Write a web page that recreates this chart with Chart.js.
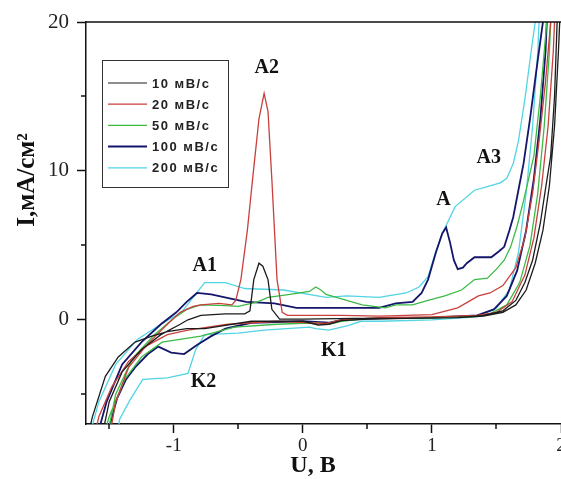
<!DOCTYPE html>
<html>
<head>
<meta charset="utf-8">
<title>ЦВА</title>
<script src="https://cdn.jsdelivr.net/npm/chart.js"></script>
<style>
  html, body { margin: 0; padding: 0; background: #fff; overflow: hidden; }
  #wrap { width: 580px; height: 479px; }
</style>
</head>
<body>
<div id="wrap"><canvas id="cv"></canvas></div>
<script>
  // подписи серий
  const seriesLabels = ['10 мВ/с', '20 мВ/с', '50 мВ/с', '100 мВ/с', '200 мВ/с'];

  // 10 мВ/с: прямой ход, затем обратный
  const x10 = [-1.56, -1.50, -1.40, -1.25, -1.10, -0.95, -0.89, -0.79, -0.60, -0.45, -0.41, -0.38, -0.34, -0.31, -0.27, -0.24, -0.18, 0.00, 0.40, 0.80, 1.20, 1.40, 1.55, 1.65, 1.72, 1.78, 1.84, 1.88, 1.92, 1.95, 1.97, 1.98,
               2.00, 1.98, 1.95, 1.91, 1.86, 1.80, 1.73, 1.65, 1.55, 1.40, 1.20, 0.80, 0.50, 0.30, 0.20, 0.12, 0.00, -0.40, -0.76, -0.90, -1.05, -1.17, -1.30, -1.43, -1.53, -1.63, -1.67];
  const y10 = [-8, -5.5, -3.5, -2.0, -1.0, -0.3, 0, 0.3, 0.4, 0.4, 0.6, 2.7, 3.8, 3.6, 2.7, 0.7, 0.05, 0.05, 0.1, 0.1, 0.15, 0.3, 0.6, 1.3, 2.5, 4.0, 6.5, 8.8, 11.0, 15.0, 20, 22,
               22, 18, 13, 9.0, 6.0, 3.8, 2.0, 1.0, 0.5, 0.25, 0.15, 0.1, 0.05, -0.05, -0.3, -0.35, -0.1, -0.1, -0.6, -0.6, -0.8, -1.1, -1.5, -2.5, -3.8, -6.5, -8];

  // 20 мВ/с
  const x20 = [-1.50, -1.45, -1.35, -1.20, -1.05, -0.95, -0.85, -0.79, -0.65, -0.55, -0.52, -0.48, -0.43, -0.39, -0.34, -0.30, -0.27, -0.24, -0.20, -0.16, -0.12, 0.30, 0.60, 1.00, 1.20, 1.30, 1.36, 1.45, 1.55, 1.65, 1.72, 1.78, 1.83, 1.88, 1.92, 1.94,
               1.96, 1.94, 1.90, 1.85, 1.79, 1.72, 1.62, 1.50, 1.35, 1.00, 0.60, 0.30, 0.18, 0.05, -0.20, -0.58, -0.89, -1.05, -1.20, -1.35, -1.48, -1.58, -1.62];
  const y20 = [-8, -5.5, -3.2, -1.6, -0.3, 0.5, 0.9, 1.0, 1.1, 1.0, 1.3, 2.7, 6.0, 9.4, 13.5, 15.2, 14.0, 9.4, 2.7, 0.5, 0.3, 0.3, 0.25, 0.35, 0.8, 1.3, 1.6, 1.8, 2.3, 3.5, 5.5, 8.5, 12.0, 16.0, 20, 22,
               22, 18, 13, 9, 5.5, 3.0, 1.2, 0.5, 0.3, 0.2, 0.15, 0, -0.25, -0.2, -0.1, -0.3, -0.7, -1.0, -1.7, -2.8, -4.5, -6.5, -8];

  // 50 мВ/с
  const x50 = [-1.52, -1.45, -1.32, -1.15, -1.00, -0.90, -0.79, -0.60, -0.50, -0.35, -0.27, -0.10, 0.05, 0.10, 0.14, 0.18, 0.26, 0.46, 0.64, 0.72, 0.85, 0.97, 1.10, 1.23, 1.33, 1.43, 1.50, 1.56, 1.61, 1.66, 1.71, 1.75, 1.79, 1.84, 1.89, 1.91,
               1.93, 1.91, 1.87, 1.82, 1.76, 1.68, 1.58, 1.45, 1.30, 0.90, 0.50, 0.30, 0.20, 0.10, -0.20, -0.53, -0.79, -1.09, -1.25, -1.38, -1.50, -1.55];
  const y50 = [-8, -5, -2.6, -1.0, 0.1, 0.7, 1.0, 0.95, 0.9, 1.2, 1.5, 1.7, 1.9, 2.2, 2.0, 1.7, 1.5, 1.0, 0.8, 1.0, 1.0, 1.3, 1.6, 2.0, 2.7, 2.8, 3.4, 4.0, 4.9, 6.3, 8.0, 9.5, 11.0, 15.0, 20, 22,
               22, 18, 13, 8.5, 5.0, 2.5, 1.0, 0.4, 0.2, 0.1, 0.1, -0.1, -0.3, -0.2, -0.3, -0.5, -1.1, -1.5, -2.5, -4.0, -6.5, -8];

  // 100 мВ/с
  const x100 = [-1.60, -1.52, -1.40, -1.25, -1.10, -0.98, -0.90, -0.82, -0.71, -0.55, -0.44, -0.22, -0.05, 0.30, 0.59, 0.72, 0.85, 0.92, 0.97, 1.03, 1.08, 1.11, 1.14, 1.17, 1.20, 1.24, 1.27, 1.33, 1.46, 1.52, 1.56, 1.60, 1.63, 1.67, 1.71, 1.76, 1.81, 1.86, 1.88,
                1.90, 1.88, 1.84, 1.79, 1.73, 1.66, 1.58, 1.48, 1.35, 1.00, 0.60, 0.30, 0.20, 0.00, -0.40, -0.60, -0.71, -0.82, -0.92, -1.02, -1.12, -1.20, -1.30, -1.37, -1.44, -1.49, -1.51];
  const y100 = [-8, -5.5, -3.0, -1.5, -0.3, 0.5, 1.2, 1.8, 1.7, 1.4, 1.2, 1.1, 0.8, 0.8, 0.8, 1.1, 1.2, 1.8, 2.7, 4.5, 5.8, 6.2, 5.2, 4.0, 3.4, 3.5, 3.8, 4.2, 4.2, 4.6, 4.9, 6.0, 6.9, 8.7, 10.5, 13.5, 16.8, 20, 22,
                22, 18, 13.5, 9.5, 6.0, 3.3, 1.6, 0.7, 0.3, 0.15, 0.1, 0.0, -0.2, -0.1, -0.2, -0.6, -1.1, -1.7, -2.3, -2.2, -1.8, -2.3, -3.2, -4.0, -5.3, -6.9, -8];

  // 200 мВ/с
  const x200 = [-1.66, -1.58, -1.45, -1.28, -1.10, -0.94, -0.85, -0.76, -0.60, -0.45, -0.15, 0.18, 0.34, 0.59, 0.80, 0.90, 0.97, 1.02, 1.08, 1.18, 1.33, 1.45, 1.53, 1.58, 1.63, 1.67, 1.72, 1.77, 1.80, 1.82,
                1.84, 1.82, 1.78, 1.73, 1.67, 1.60, 1.50, 1.35, 1.00, 0.60, 0.45, 0.35, 0.20, 0.10, 0.05, -0.30, -0.50, -0.76, -0.83, -0.89, -1.05, -1.24, -1.34, -1.42, -1.44];
  const y200 = [-8, -5.5, -3.0, -1.3, -0.3, 0.5, 1.5, 2.5, 2.5, 2.1, 2.0, 1.5, 1.6, 1.5, 1.8, 2.2, 2.9, 4.3, 5.8, 7.6, 8.7, 9.0, 9.2, 9.5, 10.5, 12.0, 14.8, 18.1, 20, 22,
                22, 18, 13, 8.5, 4.5, 2.0, 0.8, 0.2, 0.0, -0.1, -0.1, -0.4, -0.7, -0.6, -0.5, -0.7, -0.9, -1.0, -2.0, -3.6, -3.9, -4.0, -5.4, -6.7, -8];

  // деления осей
  const xTicksMinor = [-1.5, -0.5, 0.5, 1.5];
  const yTicksMinor = [-5, 5, 15];

  // подписи пиков
  const peakLabels = ['A2', 'A3', 'A', 'A1', 'K1', 'K2'];
  const peakX = [-0.28, 1.44, 1.09, -0.76, 0.24, -0.77];
  const peakY = [16.9, 10.9, 8.05, 3.6, -2.1, -4.2];

  const xs = [x10, x20, x50, x100, x200];
  const ys = [y10, y20, y50, y100, y200];
  const colors = ['#1c1c1c', '#c8403c', '#3cba46', '#15166b', '#52d4e4'];
  const widths = [1.3, 1.3, 1.3, 1.8, 1.3];

  const datasets = seriesLabels.map((lab, k) => ({
    label: lab,
    data: xs[k].map((x, i) => ({ x: x, y: ys[k][i] })),
    showLine: true,
    borderColor: colors[k],
    borderWidth: widths[k],
    pointRadius: 0,
    tension: 0,
    fill: false
  }));

  const extras = {
    id: 'extras',
    afterDraw(chart) {
      const ctx = chart.ctx;
      const a = chart.chartArea;
      const sx = chart.scales.x, sy = chart.scales.y;
      ctx.save();

      // верхняя рамка и малые деления
      ctx.strokeStyle = '#111';
      ctx.lineWidth = 1.5;
      ctx.beginPath();
      ctx.moveTo(a.left, a.top);
      ctx.lineTo(a.right, a.top);
      xTicksMinor.forEach(v => {
        const p = Math.round(sx.getPixelForValue(v));
        ctx.moveTo(p, a.bottom);
        ctx.lineTo(p, a.bottom + 5);
      });
      yTicksMinor.forEach(v => {
        const p = Math.round(sy.getPixelForValue(v));
        ctx.moveTo(a.left, p);
        ctx.lineTo(a.left - 5, p);
      });
      ctx.stroke();

      // подписи пиков
      ctx.fillStyle = '#111';
      ctx.font = 'bold 20px "Liberation Serif"';
      ctx.textAlign = 'center';
      ctx.textBaseline = 'middle';
      peakLabels.forEach((t, i) => {
        ctx.fillText(t, sx.getPixelForValue(peakX[i]), sy.getPixelForValue(peakY[i]));
      });

      // названия осей
      ctx.font = 'bold 24px "Liberation Serif"';
      ctx.fillText('U, B', 313, 466);
      ctx.save();
      ctx.translate(28, 180);
      ctx.rotate(-Math.PI / 2);
      ctx.font = 'bold 25px "Liberation Serif"';
      ctx.fillText('I,мА/см²', 0, 0);
      ctx.restore();

      // легенда
      ctx.strokeStyle = '#333';
      ctx.lineWidth = 1;
      ctx.fillStyle = '#fff';
      ctx.fillRect(102, 60, 126, 127);
      ctx.strokeRect(102.5, 60.5, 126, 127);
      ctx.textAlign = 'left';
      ctx.font = 'bold 13px "Liberation Sans"';
      ctx.letterSpacing = '1.5px';
      chart.data.datasets.forEach((ds, i) => {
        const yy = 83 + i * 21.2;
        ctx.strokeStyle = ds.borderColor;
        ctx.lineWidth = i === 3 ? 2 : 1.2;
        ctx.beginPath();
        ctx.moveTo(108, yy);
        ctx.lineTo(147, yy);
        ctx.stroke();
        ctx.fillStyle = '#222';
        ctx.fillText(ds.label, 152, yy + 1);
      });
      ctx.restore();
    }
  };

  new Chart(document.getElementById('cv'), {
    type: 'scatter',
    data: { datasets: datasets },
    options: {
      responsive: true,
      maintainAspectRatio: false,
      animation: false,
      events: [],
      layout: { padding: { top: 22, right: 19, left: 0, bottom: 0 } },
      plugins: { legend: { display: false }, tooltip: { enabled: false } },
      scales: {
        x: {
          type: 'linear',
          min: -1.68,
          max: 2,
          afterFit: s => { s.height = 55; },
          border: { display: true, color: '#111', width: 1.5 },
          grid: { drawOnChartArea: false, tickLength: 9, tickWidth: 1.5, tickColor: '#111' },
          ticks: { stepSize: 1, includeBounds: false, padding: 2, color: '#222', font: { family: 'Liberation Serif', size: 19 } }
        },
        y: {
          type: 'linear',
          min: -7,
          max: 20,
          afterFit: s => { s.width = 86; },
          border: { display: true, color: '#111', width: 1.5 },
          grid: { drawOnChartArea: false, tickLength: 9, tickWidth: 1.5, tickColor: '#111' },
          ticks: { stepSize: 10, includeBounds: false, padding: 8, color: '#222', font: { family: 'Liberation Serif', size: 21 } }
        }
      }
    },
    plugins: [extras]
  });
</script>
</body>
</html>
